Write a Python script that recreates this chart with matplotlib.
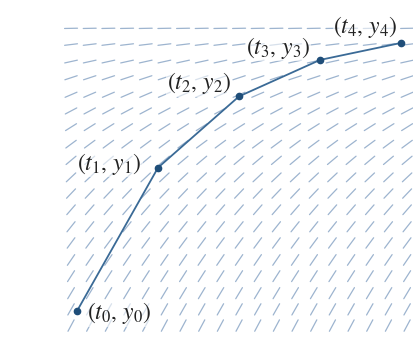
import matplotlib
matplotlib.use('Agg')
import matplotlib.pyplot as plt
import numpy as np

matplotlib.rcParams['mathtext.fontset'] = 'stix'

# Euler steps
t_pts = [0, 1, 2, 3, 4]
y_pts = [0.0, 1.77, 2.65, 3.10, 3.31]
labels = [r'$(t_0,\, y_0)$', r'$(t_1,\, y_1)$', r'$(t_2,\, y_2)$',
          r'$(t_3,\, y_3)$', r'$(t_4,\, y_4)$']

# slope field: slope depends only on the row (y)
row_y = [3.49, 3.29, 3.08, 2.88, 2.67, 2.47, 2.27, 2.06, 1.86, 1.65,
         1.45, 1.25, 1.04, 0.84, 0.63, 0.43, 0.22, 0.02, -0.18]
row_slope = [0.02, 0.12, 0.22, 0.33, 0.43, 0.53, 0.63, 0.74, 0.84, 0.94,
             1.05, 1.15, 1.25, 1.35, 1.46, 1.56, 1.66, 1.76, 1.87]
col_t = np.arange(19) * 0.2305 - 0.074

fig = plt.figure(figsize=(4.14, 3.42), dpi=100)
ax = fig.add_axes([0, 0, 1, 1])
ax.set_xlim(-0.951, 4.160)
ax.set_ylim(-0.383, 3.840)
ax.axis('off')

half = 0.08  # half length of a field dash
for y, m in zip(row_y, row_slope):
    dx = half / np.sqrt(1 + m * m)
    for t in col_t:
        ax.plot([t - dx, t + dx], [y - m * dx, y + m * dx],
                color='#9db4cf', lw=0.9, solid_capstyle='round', zorder=1)

ax.plot(t_pts, y_pts, '-', color='#3a6a96', lw=1.3, zorder=2)
ax.plot(t_pts, y_pts, 'o', color='#1f4e79', ms=4.5, zorder=3)

offsets = [(0.12, -0.03, 'left'), (-0.20, 0.05, 'right'), (-0.09, 0.16, 'right'),
           (-0.12, 0.15, 'right'), (-0.04, 0.20, 'right')]
for t, y, s, (dx, dy, ha) in zip(t_pts, y_pts, labels, offsets):
    ax.text(t + dx, y + dy, s, fontsize=17, ha=ha, va='center', color='#222222',
            bbox=dict(facecolor='white', edgecolor='none', pad=0.5, alpha=0.6))

fig.savefig('out.png', dpi=100, facecolor='white')
